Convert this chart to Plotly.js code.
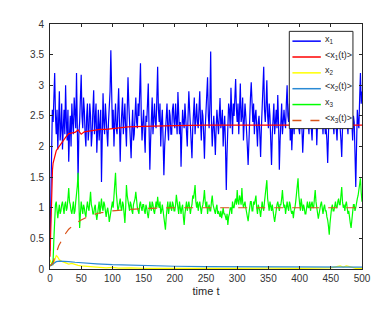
<!DOCTYPE html>
<html>
<head>
<meta charset="utf-8">
<script src="https://cdn.plot.ly/plotly-3.0.1.min.js"></script>
<style>html,body{margin:0;padding:0;background:#fff;}#chart{width:382px;height:318px;}</style>
</head>
<body>
<div id="chart"></div>
<script>
// Noisy series sampled every 1.25 time units, t = 0 ... 500
const T_STEP = 1.25;
const x1Values = [
  0.3,1.2,1.7,2.6,2.4,2.9,3.2,2.5,2.2,2.6,1.95,2.4,2.9,2.1,2.3,2.7,1.95,2.3,2.6,2.2,3.0,2.4,2.1,2.6,1.75,2.2,2.5,2.0,2.7,2.4,2.2,2.8,2.6,2.3,3.2,2.5,1.45,2.2,2.4,2.8,
  3.17,2.5,2.3,2.8,2.6,2.2,2.0,2.5,2.7,2.1,2.3,2.7,2.5,2.0,2.2,2.6,2.92,2.2,2.4,2.7,1.9,2.4,2.6,2.1,2.3,2.6,1.42,2.3,2.87,2.4,2.2,2.7,2.5,2.2,2.0,2.4,2.6,2.9,3.57,2.6,
  2.3,2.6,2.0,2.4,2.7,2.3,2.2,2.6,2.95,2.4,1.75,2.3,2.5,2.8,2.2,2.5,2.7,2.3,2.0,2.6,3.13,2.7,2.4,2.0,1.81,2.3,2.6,2.1,2.2,2.5,2.8,2.4,2.3,2.7,2.5,2.9,3.36,2.5,2.1,2.4,
  2.6,2.2,1.9,2.5,2.4,2.7,3.03,2.3,1.62,2.1,2.5,2.8,2.2,2.5,2.7,2.4,2.3,2.8,3.3,2.6,2.4,2.7,2.0,2.4,2.6,2.1,1.53,2.0,2.3,2.5,2.7,2.3,2.1,2.6,2.5,2.2,2.2,2.6,2.7,2.4,
  2.3,2.7,2.5,2.2,2.89,2.5,2.2,2.4,1.67,2.2,2.6,2.4,2.3,2.7,2.5,2.3,2.0,2.5,2.9,2.6,2.4,2.1,1.81,2.3,2.6,2.8,2.2,2.5,2.7,2.4,2.3,2.6,2.9,2.4,2.1,2.6,2.5,2.2,1.8,2.3,
  2.6,2.8,3.13,2.5,2.3,2.7,3.55,2.4,2.0,2.3,2.5,2.2,1.86,2.3,2.6,2.4,2.2,2.5,2.79,2.3,2.4,2.6,2.0,2.3,2.5,2.0,1.29,1.9,2.3,2.7,2.6,2.3,2.96,2.5,2.2,2.7,2.5,2.8,3.1,2.6,
  2.4,2.7,2.2,2.6,3.03,2.4,2.5,2.8,2.1,2.4,2.7,2.5,2.3,2.0,1.7,2.2,2.6,2.8,3.05,2.5,2.4,2.7,2.2,2.5,2.6,2.3,2.0,2.4,2.5,2.2,1.83,2.3,2.7,2.9,3.3,2.6,2.4,2.7,3.08,2.5,
  2.3,2.7,2.5,2.1,1.7,2.2,2.4,2.7,2.2,2.5,2.6,2.3,2.84,2.4,1.62,2.1,2.4,2.7,2.2,2.5,2.6,2.4,2.3,2.7,3.0,2.5,2.4,2.7,2.1,2.4,1.94,2.3,2.5,2.2,2.8,2.5,2.3,2.7,2.6,2.3,
  2.2,2.5,2.7,2.3,1.9,2.2,2.5,2.8,2.3,2.6,2.8,2.4,2.2,2.7,2.5,2.3,2.1,2.5,2.7,2.4,2.3,2.6,2.02,2.4,2.6,2.3,2.4,2.7,2.9,2.5,2.2,2.6,2.5,2.2,2.3,2.1,1.73,2.2,2.6,2.4,
  2.3,2.5,2.7,2.4,2.2,2.6,2.5,2.3,2.1,2.5,2.8,2.4,2.3,2.1,1.83,2.3,2.5,2.7,2.3,2.5,2.7,2.4,2.2,2.6,2.5,2.7,2.9,2.4,2.1,2.5,2.4,1.9,1.34,2.0,2.6,2.4,2.3,2.8,3.2,2.7,
  2.9
];
const x3Values = [
  0.05,0.06,0.08,0.1,0.15,0.5,0.9,1.05,1.1,0.95,0.83,0.95,1.05,0.9,0.95,1.05,1.1,1.0,0.9,1.05,1.1,0.95,1.0,1.15,1.32,1.1,1.05,0.95,0.9,1.0,1.1,0.9,0.95,1.1,1.2,1.35,1.57,1.0,0.67,0.9,
  1.1,1.0,0.9,1.05,1.0,0.9,0.85,1.0,1.1,1.0,0.95,1.1,1.26,1.05,1.0,0.9,0.9,1.0,1.05,0.9,0.8,0.9,1.0,1.1,0.9,1.0,1.15,1.0,0.95,1.1,1.05,0.95,0.85,0.95,1.0,0.9,0.77,0.85,0.95,1.05,
  1.1,1.0,1.2,1.35,1.57,1.25,1.1,0.95,1.0,1.1,1.15,1.0,0.95,1.1,1.05,0.9,0.75,1.0,1.37,1.2,1.1,1.0,0.95,1.1,1.05,0.95,0.9,1.05,1.1,1.15,1.26,1.1,1.0,0.95,0.9,1.05,1.1,1.0,0.95,1.05,
  1.05,0.95,0.9,1.05,1.0,0.9,0.83,0.95,1.1,1.0,0.95,1.1,1.05,0.95,0.9,1.0,1.1,1.0,1.18,1.05,1.0,1.1,0.9,0.95,1.05,0.95,0.85,0.75,0.64,0.85,1.0,1.1,0.9,1.0,1.1,1.0,0.95,1.1,1.05,0.95,
  0.95,1.05,1.21,1.1,1.0,0.9,1.1,1.0,0.9,1.0,1.05,0.85,0.72,0.9,1.0,1.1,0.95,1.05,1.1,1.0,0.9,1.0,1.05,1.2,1.15,1.25,1.37,1.1,1.0,1.1,0.95,1.05,1.1,1.0,0.9,1.0,1.05,1.15,1.29,1.1,
  1.0,1.1,0.9,1.0,1.05,0.95,0.95,1.1,1.2,1.05,1.0,0.95,0.9,1.0,1.05,0.9,0.95,0.9,0.85,0.95,0.83,0.9,1.0,0.9,0.9,0.85,0.8,0.9,0.72,0.85,0.9,1.0,1.0,0.9,1.1,1.0,1.0,1.1,1.15,1.05,
  1.29,1.1,1.05,1.2,1.15,1.05,1.32,1.1,1.0,1.05,1.1,1.0,0.9,0.85,0.78,0.9,1.0,1.1,1.1,0.95,0.95,1.1,1.05,1.15,1.2,1.0,0.9,1.05,1.0,0.95,0.85,1.0,1.1,1.0,0.95,1.1,1.2,1.3,1.45,1.15,
  1.0,0.95,1.1,1.0,0.95,1.05,0.9,0.85,0.77,0.9,1.0,1.05,1.1,1.0,0.95,1.05,1.05,1.15,1.29,1.1,1.0,1.05,0.9,1.0,1.1,1.0,0.95,1.1,1.05,0.95,0.9,0.95,0.83,0.95,1.0,1.1,1.2,1.3,1.48,1.2,
  1.05,0.95,1.15,1.05,0.95,1.05,1.0,0.9,0.9,1.0,1.1,1.0,1.0,1.1,0.95,1.05,1.1,1.0,1.0,1.15,1.29,1.1,1.0,0.9,0.82,0.9,1.0,1.05,1.1,1.0,0.9,1.0,1.05,0.95,0.95,0.85,0.8,0.7,0.56,0.75,
  0.9,1.0,1.05,0.95,0.95,1.05,1.1,1.0,1.0,1.1,1.15,1.05,1.05,1.2,1.34,1.1,1.0,1.05,0.95,1.05,1.1,1.0,0.9,0.95,0.8,0.75,0.67,0.85,0.95,1.05,1.05,0.95,1.0,1.1,1.15,1.2,1.3,1.4,1.48,1.25,
  1.1
];
const x1Times = x1Values.map((_, i) => i * T_STEP);
const x3Times = x3Values.map((_, i) => i * T_STEP);

// Smooth averaged series, read at selected times
const avgX1Times  = [0,1,2,3,4,5,7.5,10,12.5,15,20,25,30,35,40,45,47.5,50,55,60,70,80,90,100,110,125,150,175,200,250,300,350,400,450,500];
const avgX1Values = [0.2,0.6,1.1,1.45,1.62,1.73,1.86,1.93,1.97,2.01,2.07,2.15,2.21,2.22,2.23,2.27,2.24,2.2,2.24,2.25,2.26,2.28,2.28,2.29,2.3,2.32,2.33,2.33,2.34,2.35,2.35,2.35,2.35,2.35,2.35];

const x2Times  = [0,2,5,8,10,12,15,20,25,30,35,40,45,50,55,60,70,80,90,100,110,130,150,200,250,300,350,400,450,460,465,470,475,480,490,500];
const x2Values = [0.15,0.1,0.07,0.15,0.22,0.2,0.15,0.12,0.1,0.08,0.09,0.07,0.06,0.05,0.045,0.04,0.035,0.03,0.02,0.025,0.015,0.02,0.01,0.01,0.005,0.01,0.015,0.01,0.02,0.04,0.05,0.03,0.05,0.04,0.01,0.01];

const avgX2Times  = [0,3,6,10,15,20,30,40,50,75,100,150,200,250,300,400,500];
const avgX2Values = [0.05,0.06,0.09,0.12,0.13,0.13,0.12,0.11,0.1,0.085,0.07,0.055,0.045,0.04,0.038,0.033,0.03];

const avgX3Times  = [0,5,8,10,14,20,25,30,40,50,60,77,100,125,157,200,250,300,350,400,450,500];
const avgX3Values = [0.05,0.1,0.22,0.26,0.38,0.5,0.58,0.65,0.74,0.8,0.85,0.91,0.95,0.97,0.99,1.0,1.0,1.0,1.0,1.0,1.0,1.0];

const seriesNames = ['x<sub>1</sub>','&lt;x<sub>1</sub>(t)&gt;','x<sub>2</sub>','&lt;x<sub>2</sub>(t)&gt;','x<sub>3</sub>','&lt;x<sub>3</sub>(t)&gt;'];
const seriesColors = ['#0000ff','#ff0000','#ffff00','#2a8ad4','#00ff00','#D95319'];
const seriesDash = ['solid','solid','solid','solid','solid','dash'];
const seriesWidth = [1.2,1.2,1.2,1.2,1.2,1.2];
const xTickVals = [0,50,100,150,200,250,300,350,400,450,500];
const yTickVals = [0,0.5,1,1.5,2,2.5,3,3.5,4];

const seriesX = [x1Times, avgX1Times, x2Times, avgX2Times, x3Times, avgX3Times];
const seriesY = [x1Values, avgX1Values, x2Values, avgX2Values, x3Values, avgX3Values];

const traces = seriesNames.map((name, i) => ({
  type: 'scatter', mode: 'lines', name: name, showlegend: false,
  x: seriesX[i], y: seriesY[i],
  line: {color: seriesColors[i], width: seriesWidth[i], dash: seriesDash[i]}
}));

// Legend box drawn in paper coordinates (MATLAB-style)
const LEG = {x0: 0.767, x1: 0.971, y0: 0.573, y1: 0.970, lineX0: 0.777, lineX1: 0.868, textX: 0.874, firstY: 0.930, stepY: 0.0647};
const shapes = [{
  type: 'rect', xref: 'paper', yref: 'paper', x0: LEG.x0, x1: LEG.x1, y0: LEG.y0, y1: LEG.y1,
  fillcolor: '#ffffff', line: {color: '#262626', width: 1}, layer: 'above'
}];
const annotations = [];
seriesNames.forEach((name, i) => {
  const yy = LEG.firstY - i * LEG.stepY;
  shapes.push({type: 'line', xref: 'paper', yref: 'paper', x0: LEG.lineX0, x1: LEG.lineX1, y0: yy, y1: yy,
    line: {color: seriesColors[i], width: 1.5, dash: seriesDash[i]}, layer: 'above'});
  annotations.push({xref: 'paper', yref: 'paper', x: LEG.textX, y: yy + 0.008, xanchor: 'left', yanchor: 'middle',
    text: name, showarrow: false, font: {family: 'Liberation Sans, Arial, sans-serif', size: 9, color: '#262626'}});
});

const axisCommon = {
  showline: true, linecolor: '#262626', linewidth: 1, mirror: 'ticks',
  ticks: 'inside', ticklen: 3, tickcolor: '#262626', tickwidth: 1,
  showgrid: false, zeroline: false,
  tickfont: {family: 'Liberation Sans, Arial, sans-serif', size: 10, color: '#333333'}
};

const layout = {
  width: 382, height: 318,
  margin: {l: 50, r: 20, t: 24, b: 49},
  paper_bgcolor: '#ffffff', plot_bgcolor: '#ffffff',
  font: {family: 'Liberation Sans, Arial, sans-serif', size: 10, color: '#333333'},
  showlegend: false,
  xaxis: Object.assign({}, axisCommon, {
    range: [0, 500], tickvals: xTickVals,
    title: {text: 'time t', font: {size: 11, color: '#262626'}, standoff: 4}
  }),
  yaxis: Object.assign({}, axisCommon, {
    range: [0, 4], tickvals: yTickVals, ticklabelstandoff: 3
  }),
  shapes: shapes,
  annotations: annotations
};

Plotly.newPlot('chart', traces, layout, {displayModeBar: false, staticPlot: true});
</script>
</body>
</html>
